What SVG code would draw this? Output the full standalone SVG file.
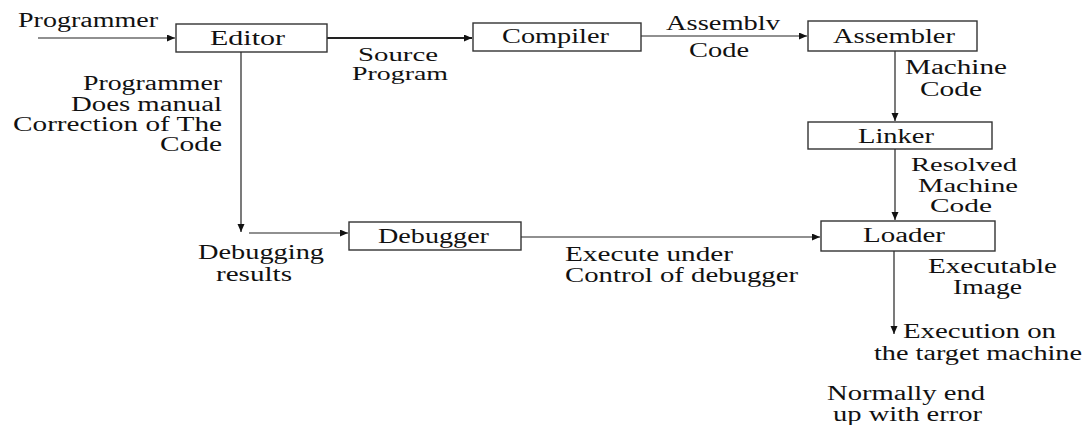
<svg xmlns="http://www.w3.org/2000/svg" width="1088" height="425" viewBox="0 0 1088 425">
<style>
text{font-family:"Liberation Serif","Times New Roman",serif;font-size:20px;fill:#111;}
.sm{font-size:18px;}
.box{fill:#fff;stroke:#333;stroke-width:1.4;}
.ln{fill:none;stroke:#222;stroke-width:1.2;}
.thick{stroke-width:2.2;}
</style>
<defs>
<marker id="ah" markerUnits="userSpaceOnUse" markerWidth="9" markerHeight="8" refX="8" refY="3.5" orient="auto">
<path d="M0,0 L8,3.5 L0,7 z" fill="#111"/>
</marker>
</defs>
<rect width="1088" height="425" fill="#fff"/>
<g id="connectors">
<line class="ln" x1="38" y1="38" x2="175" y2="38" marker-end="url(#ah)"/>
<line class="ln thick" x1="327" y1="38" x2="472" y2="38" marker-end="url(#ah)"/>
<line class="ln" x1="641" y1="36" x2="807" y2="36" marker-end="url(#ah)"/>
<line class="ln" x1="895" y1="51" x2="895" y2="121" marker-end="url(#ah)"/>
<line class="ln" x1="895" y1="149" x2="895" y2="220" marker-end="url(#ah)"/>
<line class="ln" x1="241" y1="52" x2="241" y2="232" marker-end="url(#ah)"/>
<line class="ln" x1="249" y1="233" x2="348" y2="233" marker-end="url(#ah)"/>
<line class="ln" x1="521" y1="237" x2="820" y2="237" marker-end="url(#ah)"/>
<line class="ln" x1="894" y1="251" x2="894" y2="334" marker-end="url(#ah)"/>
</g>
<g id="labels">
<text x="18" y="27" textLength="140" lengthAdjust="spacingAndGlyphs">Programmer</text>
<text class="sm" x="358" y="61" textLength="80" lengthAdjust="spacingAndGlyphs">Source</text>
<text class="sm" x="352" y="80" textLength="96" lengthAdjust="spacingAndGlyphs">Program</text>
<text x="83" y="90" textLength="139" lengthAdjust="spacingAndGlyphs">Programmer</text>
<text x="71" y="111" textLength="151" lengthAdjust="spacingAndGlyphs">Does manual</text>
<text x="13" y="131" textLength="209" lengthAdjust="spacingAndGlyphs">Correction of The</text>
<text x="160" y="151" textLength="62" lengthAdjust="spacingAndGlyphs">Code</text>
<text x="666" y="30" textLength="114" lengthAdjust="spacingAndGlyphs">Assemblv</text>
<text x="689" y="57" textLength="60" lengthAdjust="spacingAndGlyphs">Code</text>
<text x="905" y="74" textLength="102" lengthAdjust="spacingAndGlyphs">Machine</text>
<text x="920" y="96" textLength="62" lengthAdjust="spacingAndGlyphs">Code</text>
<text class="sm" x="911" y="171" textLength="106" lengthAdjust="spacingAndGlyphs">Resolved</text>
<text class="sm" x="918" y="192" textLength="100" lengthAdjust="spacingAndGlyphs">Machine</text>
<text class="sm" x="930" y="212" textLength="62" lengthAdjust="spacingAndGlyphs">Code</text>
<text x="198" y="259" textLength="126" lengthAdjust="spacingAndGlyphs">Debugging</text>
<text x="216" y="281" textLength="76" lengthAdjust="spacingAndGlyphs">results</text>
<text x="565" y="261" textLength="168" lengthAdjust="spacingAndGlyphs">Execute under</text>
<text x="565" y="282" textLength="233" lengthAdjust="spacingAndGlyphs">Control of debugger</text>
<text x="928" y="273" textLength="129" lengthAdjust="spacingAndGlyphs">Executable</text>
<text x="953" y="294" textLength="69" lengthAdjust="spacingAndGlyphs">Image</text>
<text x="903" y="338" textLength="153" lengthAdjust="spacingAndGlyphs">Execution on</text>
<text x="874" y="360" textLength="208" lengthAdjust="spacingAndGlyphs">the target machine</text>
<text x="827" y="400" textLength="158" lengthAdjust="spacingAndGlyphs">Normally end</text>
<text x="833" y="421" textLength="149" lengthAdjust="spacingAndGlyphs">up with error</text>
</g>
<g id="editor">
<rect class="box" x="176" y="24" width="151" height="28"/>
<text x="210" y="45" textLength="75" lengthAdjust="spacingAndGlyphs">Editor</text>
</g>
<g id="compiler">
<rect class="box" x="473" y="23" width="168" height="28"/>
<text x="502" y="43" textLength="107" lengthAdjust="spacingAndGlyphs">Compiler</text>
</g>
<g id="assembler">
<rect class="box" x="808" y="21" width="169" height="30"/>
<text x="833" y="43" textLength="122" lengthAdjust="spacingAndGlyphs">Assembler</text>
</g>
<g id="linker">
<rect class="box" x="808" y="122" width="184" height="27"/>
<text x="858" y="143" textLength="76" lengthAdjust="spacingAndGlyphs">Linker</text>
</g>
<g id="debugger">
<rect class="box" x="349" y="222" width="172" height="28"/>
<text x="378" y="243" textLength="111" lengthAdjust="spacingAndGlyphs">Debugger</text>
</g>
<g id="loader">
<rect class="box" x="821" y="221" width="174" height="30"/>
<text x="863" y="242" textLength="82" lengthAdjust="spacingAndGlyphs">Loader</text>
</g>
</svg>
